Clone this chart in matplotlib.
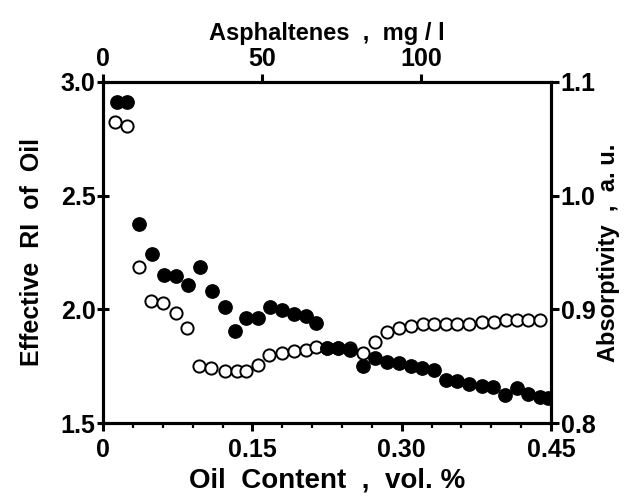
import matplotlib

matplotlib.use("Agg")
import matplotlib.pyplot as plt  # noqa: E402
from matplotlib.ticker import MultipleLocator  # noqa: E402

# filled circles: effective refractive index of oil (left axis)
ri_x = [0.014, 0.024, 0.036, 0.049, 0.061, 0.073, 0.085, 0.097, 0.109, 0.122,
        0.132, 0.144, 0.156, 0.168, 0.180, 0.192, 0.204, 0.214, 0.225, 0.236,
        0.248, 0.261, 0.273, 0.285, 0.297, 0.309, 0.320, 0.332, 0.344, 0.356,
        0.368, 0.381, 0.392, 0.404, 0.416, 0.427, 0.439, 0.447]
ri = [2.91, 2.91, 2.375, 2.243, 2.151, 2.147, 2.107, 2.186, 2.081, 2.010,
      1.905, 1.962, 1.962, 2.010, 1.997, 1.98, 1.97, 1.94, 1.83, 1.83,
      1.82, 1.75, 1.785, 1.77, 1.765, 1.75, 1.74, 1.735, 1.69, 1.685,
      1.67, 1.665, 1.66, 1.625, 1.655, 1.63, 1.615, 1.61]

# open circles: absorptivity (right axis)
abs_x = [0.012, 0.024, 0.036, 0.048, 0.060, 0.073, 0.084, 0.096, 0.108, 0.122,
         0.134, 0.144, 0.156, 0.167, 0.180, 0.192, 0.204, 0.214, 0.225, 0.236,
         0.248, 0.261, 0.273, 0.285, 0.297, 0.309, 0.321, 0.332, 0.344, 0.356,
         0.368, 0.381, 0.393, 0.405, 0.416, 0.427, 0.439]
absorb = [1.065, 1.061, 0.937, 0.907, 0.906, 0.897, 0.884, 0.850, 0.848, 0.846,
          0.846, 0.846, 0.851, 0.860, 0.862, 0.863, 0.864, 0.867, 0.866, 0.866,
          0.866, 0.862, 0.871, 0.880, 0.884, 0.885, 0.887, 0.887, 0.887, 0.887,
          0.887, 0.889, 0.889, 0.891, 0.891, 0.891, 0.891]

ASPH_MAX = 141  # mg/l at 0.45 vol.%

plt.rcParams["font.family"] = ["Liberation Sans", "DejaVu Sans"]
plt.rcParams["font.weight"] = "bold"
FS = 18
LW = 2.2

fig = plt.figure(figsize=(6.29, 4.96), dpi=100)
ax = fig.add_axes([0.164, 0.147, 0.712, 0.688])
ax2 = ax.twinx()
ax3 = ax.twiny()

ax2.plot(abs_x, absorb, "o", ms=8.8, mfc="white", mec="black", mew=1.4,
         zorder=2)
ax.plot(ri_x, ri, "o", ms=9.6, color="black", zorder=3)
ax.set_zorder(ax2.get_zorder() + 1)
ax.patch.set_visible(False)

ax.set_xlim(0, 0.45)
ax.set_ylim(1.5, 3.0)
ax2.set_ylim(0.8, 1.1)
ax3.set_xlim(0, ASPH_MAX)

ax.set_xticks([0, 0.15, 0.30, 0.45])
ax.set_xticklabels(["0", "0.15", "0.30", "0.45"])
ax.xaxis.set_minor_locator(MultipleLocator(0.03))
ax.set_yticks([1.5, 2.0, 2.5, 3.0])
ax2.set_yticks([0.8, 0.9, 1.0, 1.1])
ax3.set_xticks([0, 50, 100])

ax.set_xlabel("Oil  Content  ,  vol. %", fontsize=20, fontweight="bold",
              labelpad=4)
ax.set_ylabel("Effective  RI  of  Oil", fontsize=18, fontweight="bold",
              labelpad=12)
ax2.set_ylabel("Absorptivity  ,  a. u.", fontsize=17, fontweight="bold",
               labelpad=1)
ax3.set_xlabel("Asphaltenes  ,  mg / l", fontsize=17, fontweight="bold",
               labelpad=5)

for a in (ax, ax2, ax3):
    for s in a.spines.values():
        s.set_linewidth(LW)
    a.tick_params(which="major", length=6, width=LW, labelsize=FS, pad=3)
    a.tick_params(which="minor", length=3.5, width=1.6)
ax.tick_params(axis="y", which="major", direction="inout", length=9, pad=1)
ax.tick_params(axis="x", which="major", pad=5)
ax2.tick_params(axis="y", which="major", pad=1)
ax3.tick_params(axis="x", which="major", pad=2)

fig.savefig("out.png", dpi=100)
